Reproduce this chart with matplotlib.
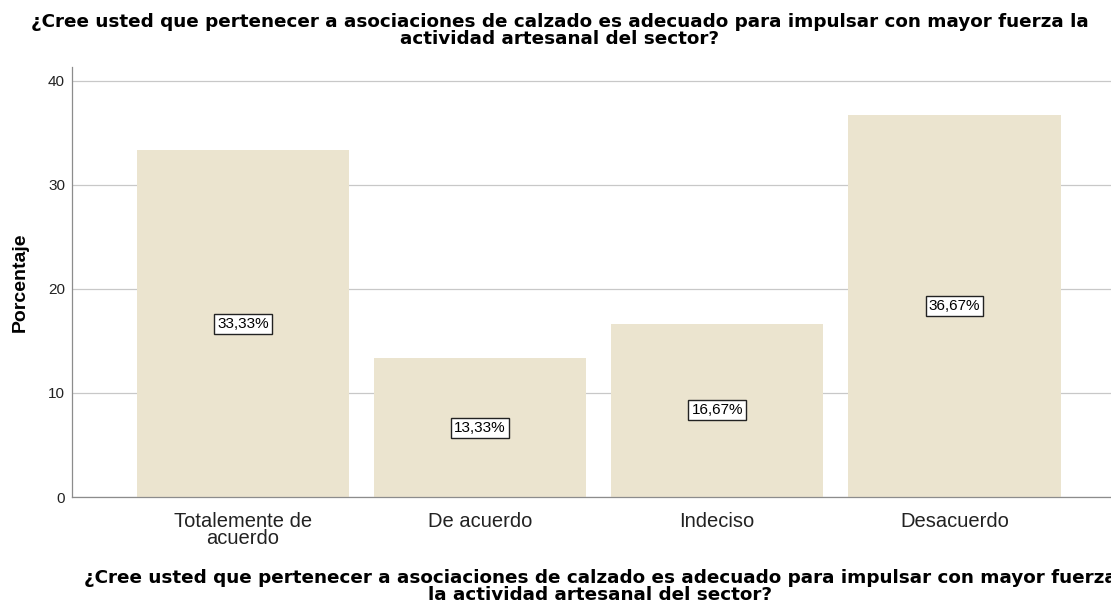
import numpy as np
import matplotlib.pyplot as plt

plt.rcParams['font.family'] = ['Liberation Sans', 'DejaVu Sans']

categorias = ["Totalemente de\nacuerdo", "De acuerdo", "Indeciso", "Desacuerdo"]
porcentajes = [33.33, 13.33, 16.67, 36.67]
etiquetas = ["33,33%", "13,33%", "16,67%", "36,67%"]
yticks = [0, 10, 20, 30, 40]

titulo = ("¿Cree usted que pertenecer a asociaciones de calzado es adecuado para impulsar con mayor fuerza la\n"
          "actividad artesanal del sector?")
titulo_x = ("¿Cree usted que pertenecer a asociaciones de calzado es adecuado para impulsar con mayor fuerza\n"
            "la actividad artesanal del sector?")

fig = plt.figure(figsize=(11.11, 6.04), dpi=100)
ax = fig.add_axes([0.0648, 0.177, 0.9352, 0.712])

ind = np.arange(len(categorias))
ax.bar(ind, porcentajes, 0.895, color="#ebe4cf", zorder=2)

for i, v in enumerate(porcentajes):
    ax.text(i, v / 2, etiquetas[i], ha='center', va='center', fontsize=11, zorder=3,
            bbox=dict(boxstyle='square,pad=0.2', fc='white', ec='#222222', lw=1.0))

ax.set_xlim(-0.72, 3.66)
ax.set_ylim(0, 41.3)
ax.set_yticks(yticks)
ax.set_yticklabels([str(t) for t in yticks], fontsize=11)
ax.set_xticks(ind)
ax.set_xticklabels(categorias, fontsize=14.5, linespacing=0.85)
ax.tick_params(axis='both', length=0, colors='#222222')
ax.tick_params(axis='x', pad=11)
ax.tick_params(axis='y', pad=5)
ax.yaxis.grid(True, color='#c8c8c8', lw=0.9, zorder=1)

for s in ['top', 'right']:
    ax.spines[s].set_visible(False)
for s in ['left', 'bottom']:
    ax.spines[s].set_color('#8c8c8c')
    ax.spines[s].set_linewidth(0.9)

ax.set_ylabel('Porcentaje', fontsize=14, fontweight='bold')
ax.yaxis.set_label_coords(-0.042, 0.5)
fig.text(0.504, 1 - 13 / 604, titulo, ha='center', va='top', fontsize=13.2, fontweight='bold',
         family='DejaVu Sans', linespacing=0.95)
fig.text(0.54, 1 - 569 / 604, titulo_x, ha='center', va='top', fontsize=13.2, fontweight='bold',
         family='DejaVu Sans', linespacing=0.9)

plt.savefig('out.png', dpi=100)
